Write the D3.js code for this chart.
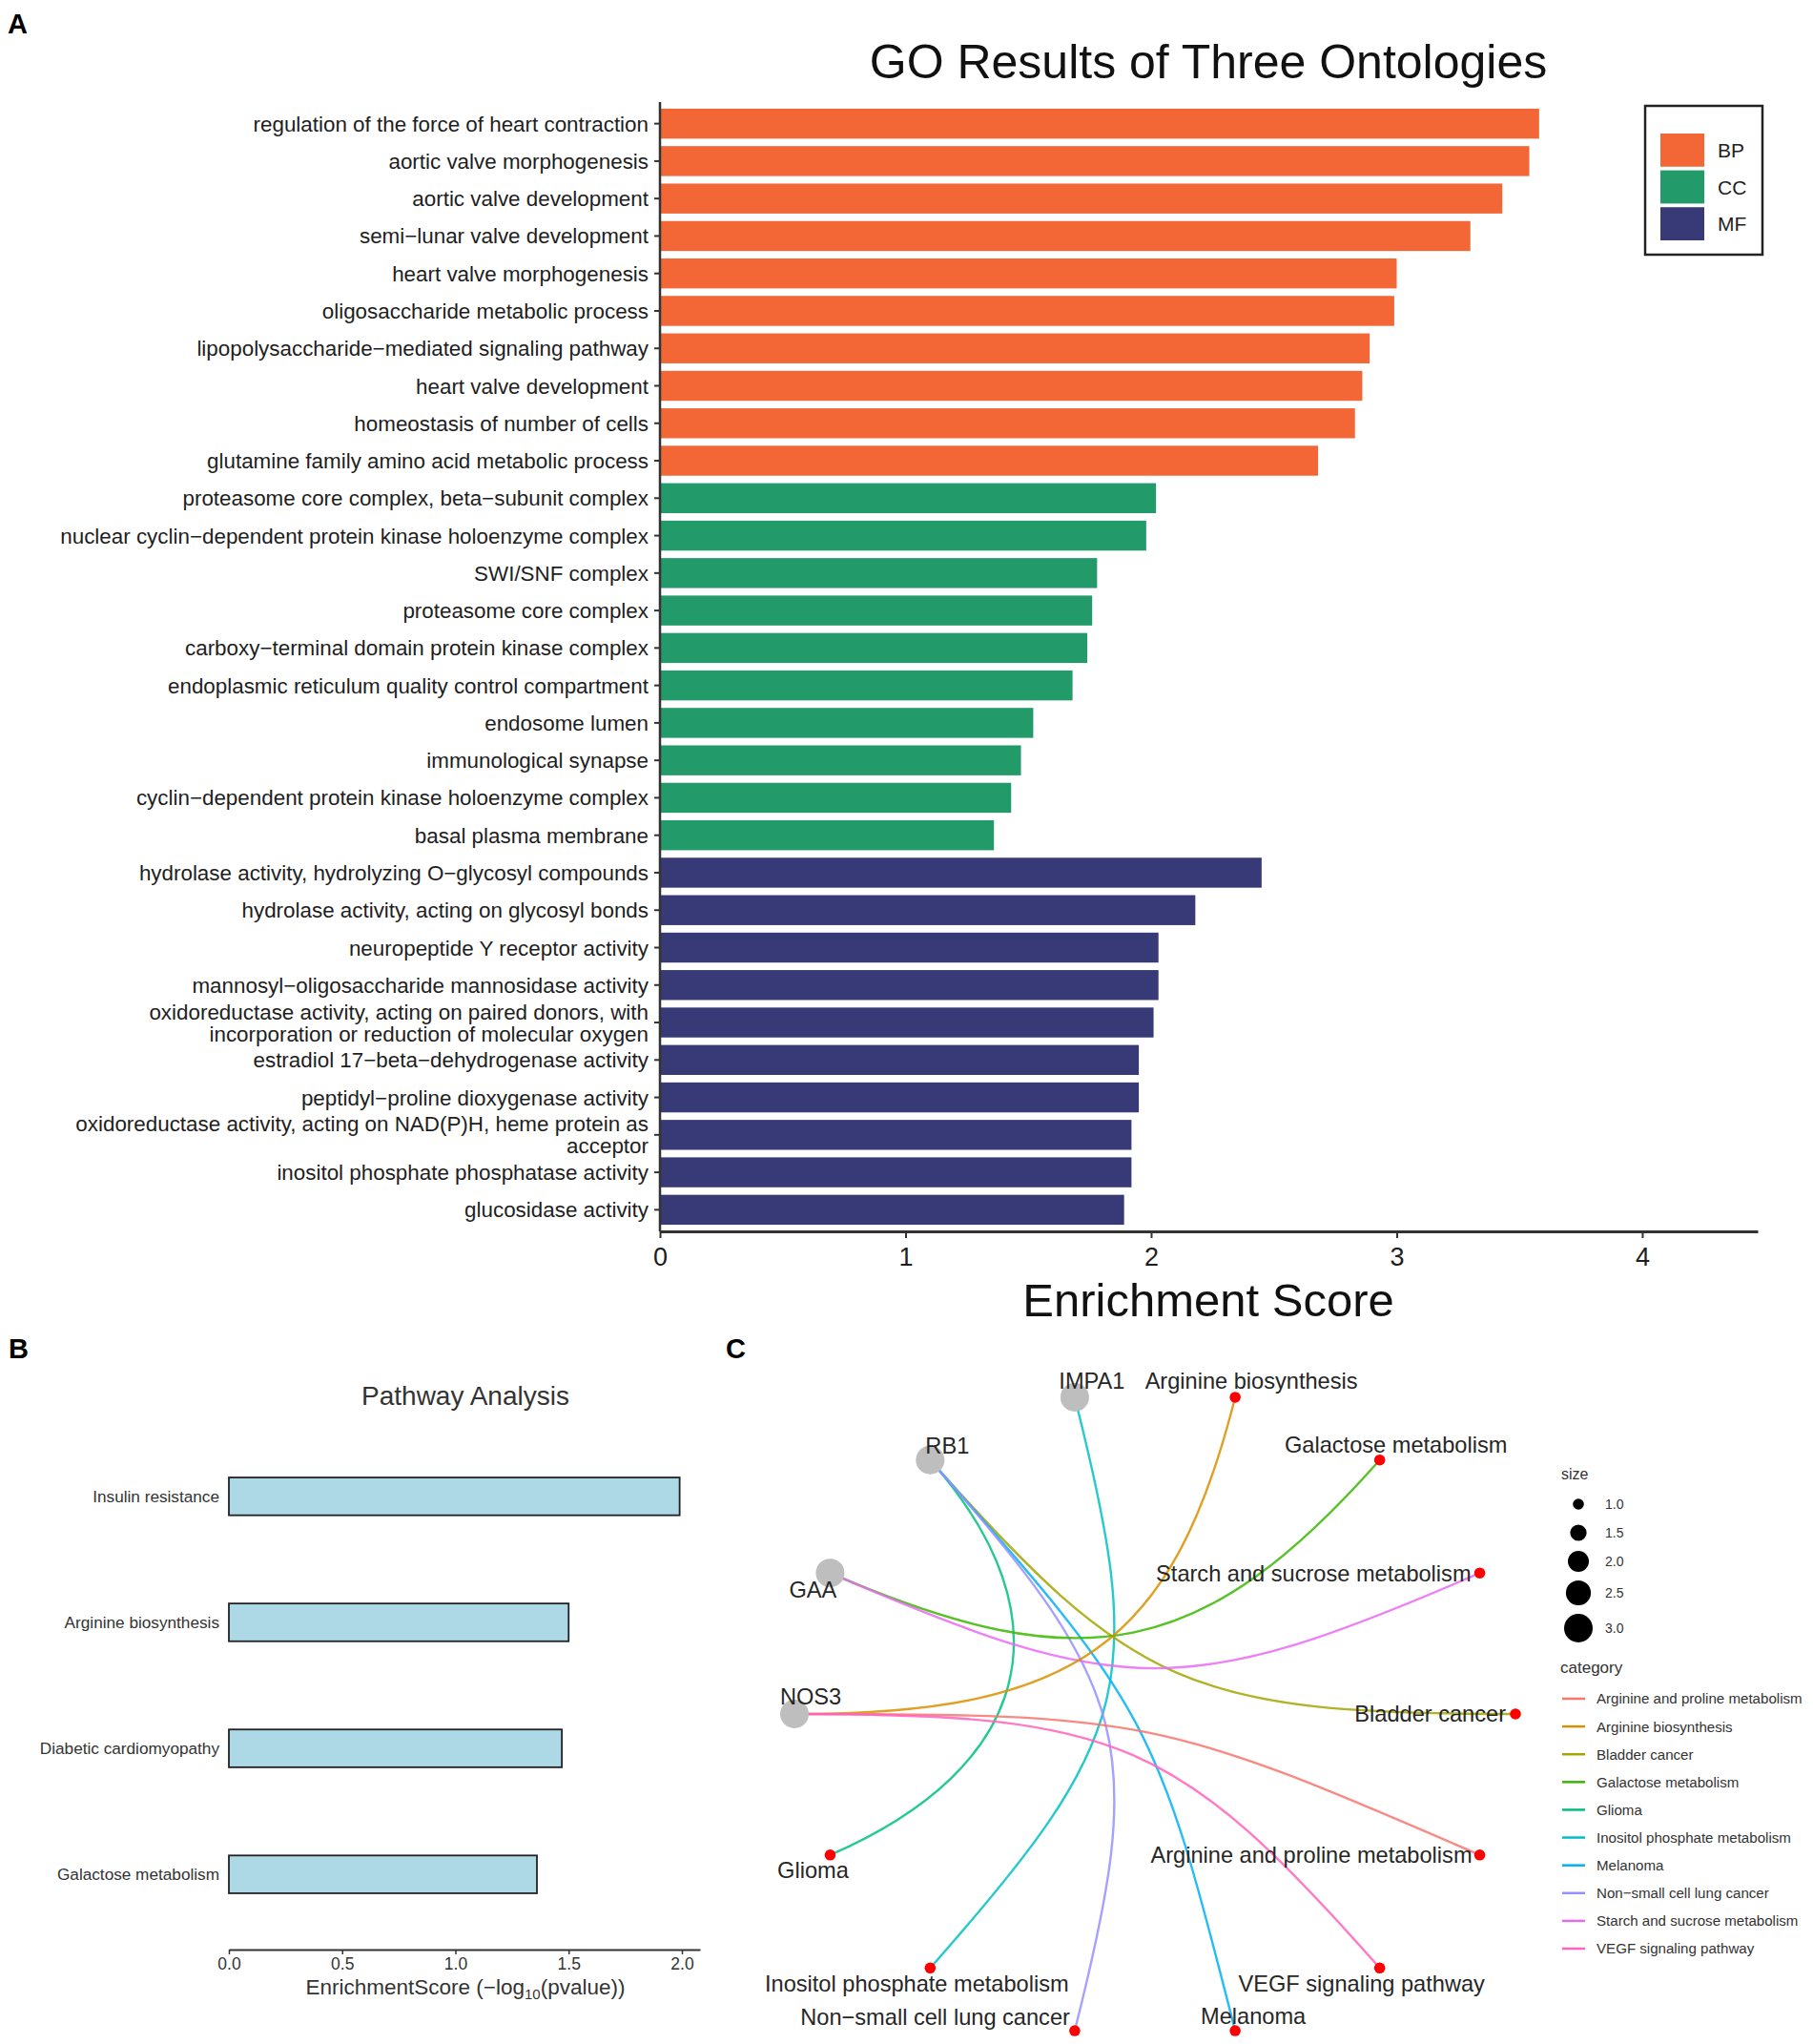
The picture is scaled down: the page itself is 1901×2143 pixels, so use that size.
<!DOCTYPE html>
<html>
<head>
<meta charset="utf-8">
<script src="https://cdn.jsdelivr.net/npm/d3@7"></script>
<style>
  body { margin: 0; background: #fff; }
  svg { display: block; font-family: "Liberation Sans", Arial, Helvetica, sans-serif; }
</style>
</head>
<body>
<svg id="fig"></svg>
<script>
const width = 1901;
const height = 2143;
const svg = d3.select("#fig").attr("width", width).attr("height", height);

svg.append("rect").attr("width", width).attr("height", height).attr("fill", "#fff");

// ---- panel A data
const goTerms = [
  "regulation of the force of heart contraction",
  "aortic valve morphogenesis",
  "aortic valve development",
  "semi\u2212lunar valve development",
  "heart valve morphogenesis",
  "oligosaccharide metabolic process",
  "lipopolysaccharide\u2212mediated signaling pathway",
  "heart valve development",
  "homeostasis of number of cells",
  "glutamine family amino acid metabolic process",
  "proteasome core complex, beta\u2212subunit complex",
  "nuclear cyclin\u2212dependent protein kinase holoenzyme complex",
  "SWI/SNF complex",
  "proteasome core complex",
  "carboxy\u2212terminal domain protein kinase complex",
  "endoplasmic reticulum quality control compartment",
  "endosome lumen",
  "immunological synapse",
  "cyclin\u2212dependent protein kinase holoenzyme complex",
  "basal plasma membrane",
  "hydrolase activity, hydrolyzing O\u2212glycosyl compounds",
  "hydrolase activity, acting on glycosyl bonds",
  "neuropeptide Y receptor activity",
  "mannosyl\u2212oligosaccharide mannosidase activity",
  "oxidoreductase activity, acting on paired donors, with\nincorporation or reduction of molecular oxygen",
  "estradiol 17\u2212beta\u2212dehydrogenase activity",
  "peptidyl\u2212proline dioxygenase activity",
  "oxidoreductase activity, acting on NAD(P)H, heme protein as\nacceptor",
  "inositol phosphate phosphatase activity",
  "glucosidase activity"
];
const goScores = [3.58, 3.54, 3.43, 3.30, 3.00, 2.99, 2.89, 2.86, 2.83, 2.68,
                  2.02, 1.98, 1.78, 1.76, 1.74, 1.68, 1.52, 1.47, 1.43, 1.36,
                  2.45, 2.18, 2.03, 2.03, 2.01, 1.95, 1.95, 1.92, 1.92, 1.89];
const goOntology = ["BP","BP","BP","BP","BP","BP","BP","BP","BP","BP",
                    "CC","CC","CC","CC","CC","CC","CC","CC","CC","CC",
                    "MF","MF","MF","MF","MF","MF","MF","MF","MF","MF"];
const ontologies = ["BP", "CC", "MF"];
const goTicks = [0, 1, 2, 3, 4];

// ---- panel B data
const pathways = ["Insulin resistance", "Arginine biosynthesis", "Diabetic cardiomyopathy", "Galactose metabolism"];
const pathwayScores = [1.99, 1.50, 1.47, 1.36];
const pathwayTicks = [0, 0.5, 1.0, 1.5, 2.0];

// ---- panel C data
const genes = ["IMPA1", "RB1", "GAA", "NOS3"];
const categories = [
  "Arginine and proline metabolism", "Arginine biosynthesis", "Bladder cancer",
  "Galactose metabolism", "Glioma", "Inositol phosphate metabolism", "Melanoma",
  "Non\u2212small cell lung cancer", "Starch and sucrose metabolism", "VEGF signaling pathway"
];
// node order round the circle, counter-clockwise from the right
const circleOrder = [
  "Bladder cancer", "Starch and sucrose metabolism", "Galactose metabolism",
  "Arginine biosynthesis", "IMPA1", "RB1", "GAA", "NOS3", "Glioma",
  "Inositol phosphate metabolism", "Non\u2212small cell lung cancer", "Melanoma",
  "VEGF signaling pathway", "Arginine and proline metabolism"
];
const edgeGene = ["IMPA1", "RB1", "RB1", "RB1", "RB1", "GAA", "GAA", "NOS3", "NOS3", "NOS3"];
const edgeCategory = [
  "Inositol phosphate metabolism", "Bladder cancer", "Glioma", "Melanoma",
  "Non\u2212small cell lung cancer", "Galactose metabolism", "Starch and sucrose metabolism",
  "Arginine biosynthesis", "Arginine and proline metabolism", "VEGF signaling pathway"
];
const sizeLegend = [1.0, 1.5, 2.0, 2.5, 3.0];
const categorySize = 1.0;

// panel letters
svg.append("text").attr("x", 8).attr("y", 35).text("A")
  .style("font-size", "29px").style("font-weight", "bold");
svg.append("text").attr("x", 9).attr("y", 1424).text("B")
  .style("font-size", "29px").style("font-weight", "bold");
svg.append("text").attr("x", 761).attr("y", 1424).text("C")
  .style("font-size", "29px").style("font-weight", "bold");

// ================= A: GO bars =================
function drawGO() {
  const g = svg.append("g");
  const x = d3.scaleLinear().domain([0, 4.47]).range([692, 1843]);
  const y = d3.scaleBand().domain(goTerms).range([110, 1288]).paddingInner(0.2).paddingOuter(0.1);
  const color = d3.scaleOrdinal().domain(ontologies).range(["#F26735", "#229A69", "#383A78"]);

  g.selectAll("rect.bar")
    .data(goTerms)
    .join("rect")
    .attr("class", "bar")
    .attr("x", x(0))
    .attr("y", d => y(d))
    .attr("width", (d, i) => x(goScores[i]) - x(0))
    .attr("height", y.bandwidth())
    .attr("fill", (d, i) => color(goOntology[i]));

  // y axis
  const yAxis = g.append("g")
    .attr("transform", `translate(${x(0)},0)`)
    .call(d3.axisLeft(y).tickSize(6).tickSizeOuter(0).tickPadding(5).tickFormat(""));
  yAxis.select(".domain").remove();
  yAxis.selectAll(".tick line").attr("stroke", "#333").attr("stroke-width", 2);
  g.append("line")
    .attr("x1", x(0)).attr("x2", x(0)).attr("y1", 107).attr("y2", 1291)
    .attr("stroke", "#333").attr("stroke-width", 2.5);

  // labels, wrapped ones centred on the band
  g.selectAll("text.term")
    .data(goTerms)
    .join("text")
    .attr("class", "term")
    .attr("text-anchor", "end")
    .attr("fill", "#1e1e1e")
    .style("font-size", "22.4px")
    .each(function(d) {
      const lines = d.split("\n");
      const t = d3.select(this);
      const cy = y(d) + y.bandwidth() / 2;
      lines.forEach((ln, k) => {
        t.append("tspan")
          .attr("x", x(0) - 12)
          .attr("y", cy + (k - (lines.length - 1) / 2) * 23)
          .attr("dy", "0.36em")
          .text(ln);
      });
    });

  // x axis
  const xAxis = g.append("g")
    .attr("transform", "translate(0,1291)")
    .call(d3.axisBottom(x).tickValues(goTicks).tickFormat(d3.format("d")).tickSize(7).tickSizeOuter(0).tickPadding(10));
  xAxis.select(".domain").attr("stroke", "#333").attr("stroke-width", 3);
  xAxis.selectAll(".tick line").attr("stroke", "#333").attr("stroke-width", 2);
  xAxis.selectAll(".tick text")
    .attr("fill", "#1e1e1e")
    .style("font-size", "27px")
    .style("font-family", "'Liberation Sans', Arial, sans-serif");

  g.append("text")
    .attr("x", 1267).attr("y", 1380)
    .attr("text-anchor", "middle")
    .style("font-size", "49px")
    .attr("fill", "#111")
    .text("Enrichment Score");

  g.append("text")
    .attr("x", 1267).attr("y", 82)
    .attr("text-anchor", "middle")
    .style("font-size", "50px")
    .attr("fill", "#111")
    .text("GO Results of Three Ontologies");

  // legend
  const leg = g.append("g");
  leg.append("rect")
    .attr("x", 1725).attr("y", 111).attr("width", 123).attr("height", 156)
    .attr("fill", "#fff").attr("stroke", "#222").attr("stroke-width", 2.5);
  const ly = d3.scaleBand().domain(ontologies).range([140, 252]).paddingInner(0.1);
  leg.selectAll("rect.key")
    .data(ontologies)
    .join("rect")
    .attr("class", "key")
    .attr("x", 1741).attr("y", d => ly(d))
    .attr("width", 46).attr("height", ly.bandwidth())
    .attr("fill", d => color(d));
  leg.selectAll("text.key")
    .data(ontologies)
    .join("text")
    .attr("class", "key")
    .attr("x", 1801).attr("y", d => ly(d) + ly.bandwidth() / 2)
    .attr("dy", "0.36em")
    .style("font-size", "21px")
    .attr("fill", "#222")
    .text(d => d);
}

// ================= B: pathway bars =================
function drawPathway() {
  const g = svg.append("g");
  const x = d3.scaleLinear().domain([0, 2.08]).range([240, 734]);
  const y = d3.scaleBand().domain(pathways).range([1483, 2051]).paddingInner(0.7).paddingOuter(0.5);

  g.selectAll("rect")
    .data(pathways)
    .join("rect")
    .attr("x", x(0))
    .attr("y", d => y(d))
    .attr("width", (d, i) => x(pathwayScores[i]) - x(0))
    .attr("height", y.bandwidth())
    .attr("fill", "#ADD8E6")
    .attr("stroke", "#222")
    .attr("stroke-width", 1.8);

  g.selectAll("text.lab")
    .data(pathways)
    .join("text")
    .attr("class", "lab")
    .attr("x", x(0) - 10)
    .attr("y", d => y(d) + y.bandwidth() / 2)
    .attr("dy", "0.36em")
    .attr("text-anchor", "end")
    .attr("fill", "#333")
    .style("font-size", "17.2px")
    .text(d => d);

  const xAxis = g.append("g")
    .attr("transform", "translate(0,2044)")
    .call(d3.axisBottom(x).tickValues(pathwayTicks).tickFormat(d3.format(".1f")).tickSize(5).tickSizeOuter(0).tickPadding(4));
  xAxis.select(".domain").attr("stroke", "#333").attr("stroke-width", 2);
  xAxis.selectAll(".tick line").attr("stroke", "#333").attr("stroke-width", 1.5);
  xAxis.selectAll(".tick text")
    .attr("fill", "#333")
    .style("font-size", "17.5px")
    .style("font-family", "'Liberation Sans', Arial, sans-serif");

  const t = g.append("text")
    .attr("x", 488).attr("y", 2091)
    .attr("text-anchor", "middle")
    .attr("fill", "#333")
    .style("font-size", "22.5px");
  t.append("tspan").text("EnrichmentScore (\u2212log");
  t.append("tspan").attr("dy", 5).style("font-size", "15px").text("10");
  t.append("tspan").attr("dy", -5).text("(pvalue))");

  g.append("text")
    .attr("x", 488).attr("y", 1473)
    .attr("text-anchor", "middle")
    .attr("fill", "#333")
    .style("font-size", "28px")
    .text("Pathway Analysis");
}

// ================= C: gene-concept network =================
function drawNetwork() {
  const g = svg.append("g");
  const cx = d3.scaleLinear().domain([-1, 1]).range([833, 1589]);
  const cy = d3.scaleLinear().domain([-1, 1]).range([2137.6, 1456.4]);
  const catColor = d3.scaleOrdinal().domain(categories)
    .range(["#F8766D", "#D89000", "#A3A500", "#39B600", "#00BF7D",
            "#00BFC4", "#00B0F6", "#9590FF", "#E76BF3", "#FF62BC"]);
  const size = d3.scalePow().exponent(0.5).domain([1, 3]).range([5.8, 15]);

  // layout in a circle (unit coordinates)
  const pos = {};
  circleOrder.forEach((name, i) => {
    const a = i * 2 * Math.PI / circleOrder.length;
    pos[name] = [Math.cos(a), Math.sin(a)];
  });

  // arcs bend toward the centre, like ggraph's circular edge arcs
  const edges = edgeGene.map((gn, i) => ({ from: gn, to: edgeCategory[i] }));
  g.selectAll("path.edge")
    .data(edges)
    .join("path")
    .attr("class", "edge")
    .attr("d", e => {
      const p0 = pos[e.from], p3 = pos[e.to];
      const half = Math.hypot(p3[0] - p0[0], p3[1] - p0[1]) / 2;
      const k = 1 - half;
      const p1 = [p0[0] * k, p0[1] * k], p2 = [p3[0] * k, p3[1] * k];
      const path = d3.path();
      path.moveTo(cx(p0[0]), cy(p0[1]));
      path.bezierCurveTo(cx(p1[0]), cy(p1[1]), cx(p2[0]), cy(p2[1]), cx(p3[0]), cy(p3[1]));
      return path.toString();
    })
    .attr("fill", "none")
    .attr("stroke", e => catColor(e.to))
    .attr("stroke-opacity", 0.85)
    .attr("stroke-width", 2.4);

  g.selectAll("circle.gene")
    .data(genes)
    .join("circle")
    .attr("class", "gene")
    .attr("cx", d => cx(pos[d][0]))
    .attr("cy", d => cy(pos[d][1]))
    .attr("r", 15)
    .attr("fill", "#BEBEBE");

  g.selectAll("circle.cat")
    .data(categories)
    .join("circle")
    .attr("class", "cat")
    .attr("cx", d => cx(pos[d][0]))
    .attr("cy", d => cy(pos[d][1]))
    .attr("r", size(categorySize))
    .attr("fill", "#FF0000");

  // label placement (repel-like offsets)
  const nudge = {
    "IMPA1": [18, -17, "middle"], "RB1": [18, -15, "middle"], "GAA": [-18, 17, "middle"],
    "NOS3": [17, -18, "middle"], "Arginine biosynthesis": [17, -17, "middle"],
    "Galactose metabolism": [17, -16, "middle"], "Starch and sucrose metabolism": [-9, 0, "end"],
    "Bladder cancer": [-10, 0, "end"], "Arginine and proline metabolism": [-8, 0, "end"],
    "Glioma": [-18, 16, "middle"], "Inositol phosphate metabolism": [-14, 16, "middle"],
    "VEGF signaling pathway": [-19, 16, "middle"], "Non\u2212small cell lung cancer": [-5, -15, "end"],
    "Melanoma": [19, -16, "middle"]
  };
  g.selectAll("text.node")
    .data(circleOrder)
    .join("text")
    .attr("class", "node")
    .attr("x", d => cx(pos[d][0]) + nudge[d][0])
    .attr("y", d => cy(pos[d][1]) + nudge[d][1])
    .attr("dy", "0.36em")
    .attr("text-anchor", d => nudge[d][2])
    .attr("fill", "#262626")
    .style("font-size", "23.6px")
    .text(d => d);

  // size legend
  const leg = g.append("g");
  leg.append("text").attr("x", 1637).attr("y", 1551).attr("fill", "#333")
    .style("font-size", "16px").text("size");
  const sy = d3.scalePoint().domain(sizeLegend).range([1577, 1707]);
  const syPos = { 1: 1577, 1.5: 1607, 2: 1637, 2.5: 1670, 3: 1707 };
  leg.selectAll("circle")
    .data(sizeLegend)
    .join("circle")
    .attr("cx", 1655)
    .attr("cy", d => syPos[d] || sy(d))
    .attr("r", d => size(d))
    .attr("fill", "#000");
  leg.selectAll("text.sz")
    .data(sizeLegend)
    .join("text")
    .attr("class", "sz")
    .attr("x", 1683)
    .attr("y", d => syPos[d] || sy(d))
    .attr("dy", "0.36em")
    .attr("fill", "#333")
    .style("font-size", "14px")
    .text(d => d3.format(".1f")(d));

  // category legend
  leg.append("text").attr("x", 1636).attr("y", 1754).attr("fill", "#333")
    .style("font-size", "17px").text("category");
  const ky = d3.scalePoint().domain(categories).range([1781, 2043]);
  leg.selectAll("line.key")
    .data(categories)
    .join("line")
    .attr("class", "key")
    .attr("x1", 1638).attr("x2", 1662)
    .attr("y1", d => ky(d)).attr("y2", d => ky(d))
    .attr("stroke", d => catColor(d))
    .attr("stroke-width", 2.5);
  leg.selectAll("text.key")
    .data(categories)
    .join("text")
    .attr("class", "key")
    .attr("x", 1674)
    .attr("y", d => ky(d))
    .attr("dy", "0.36em")
    .attr("fill", "#333")
    .style("font-size", "15.1px")
    .text(d => d);
}

drawGO();
drawPathway();
drawNetwork();
</script>
</body>
</html>
